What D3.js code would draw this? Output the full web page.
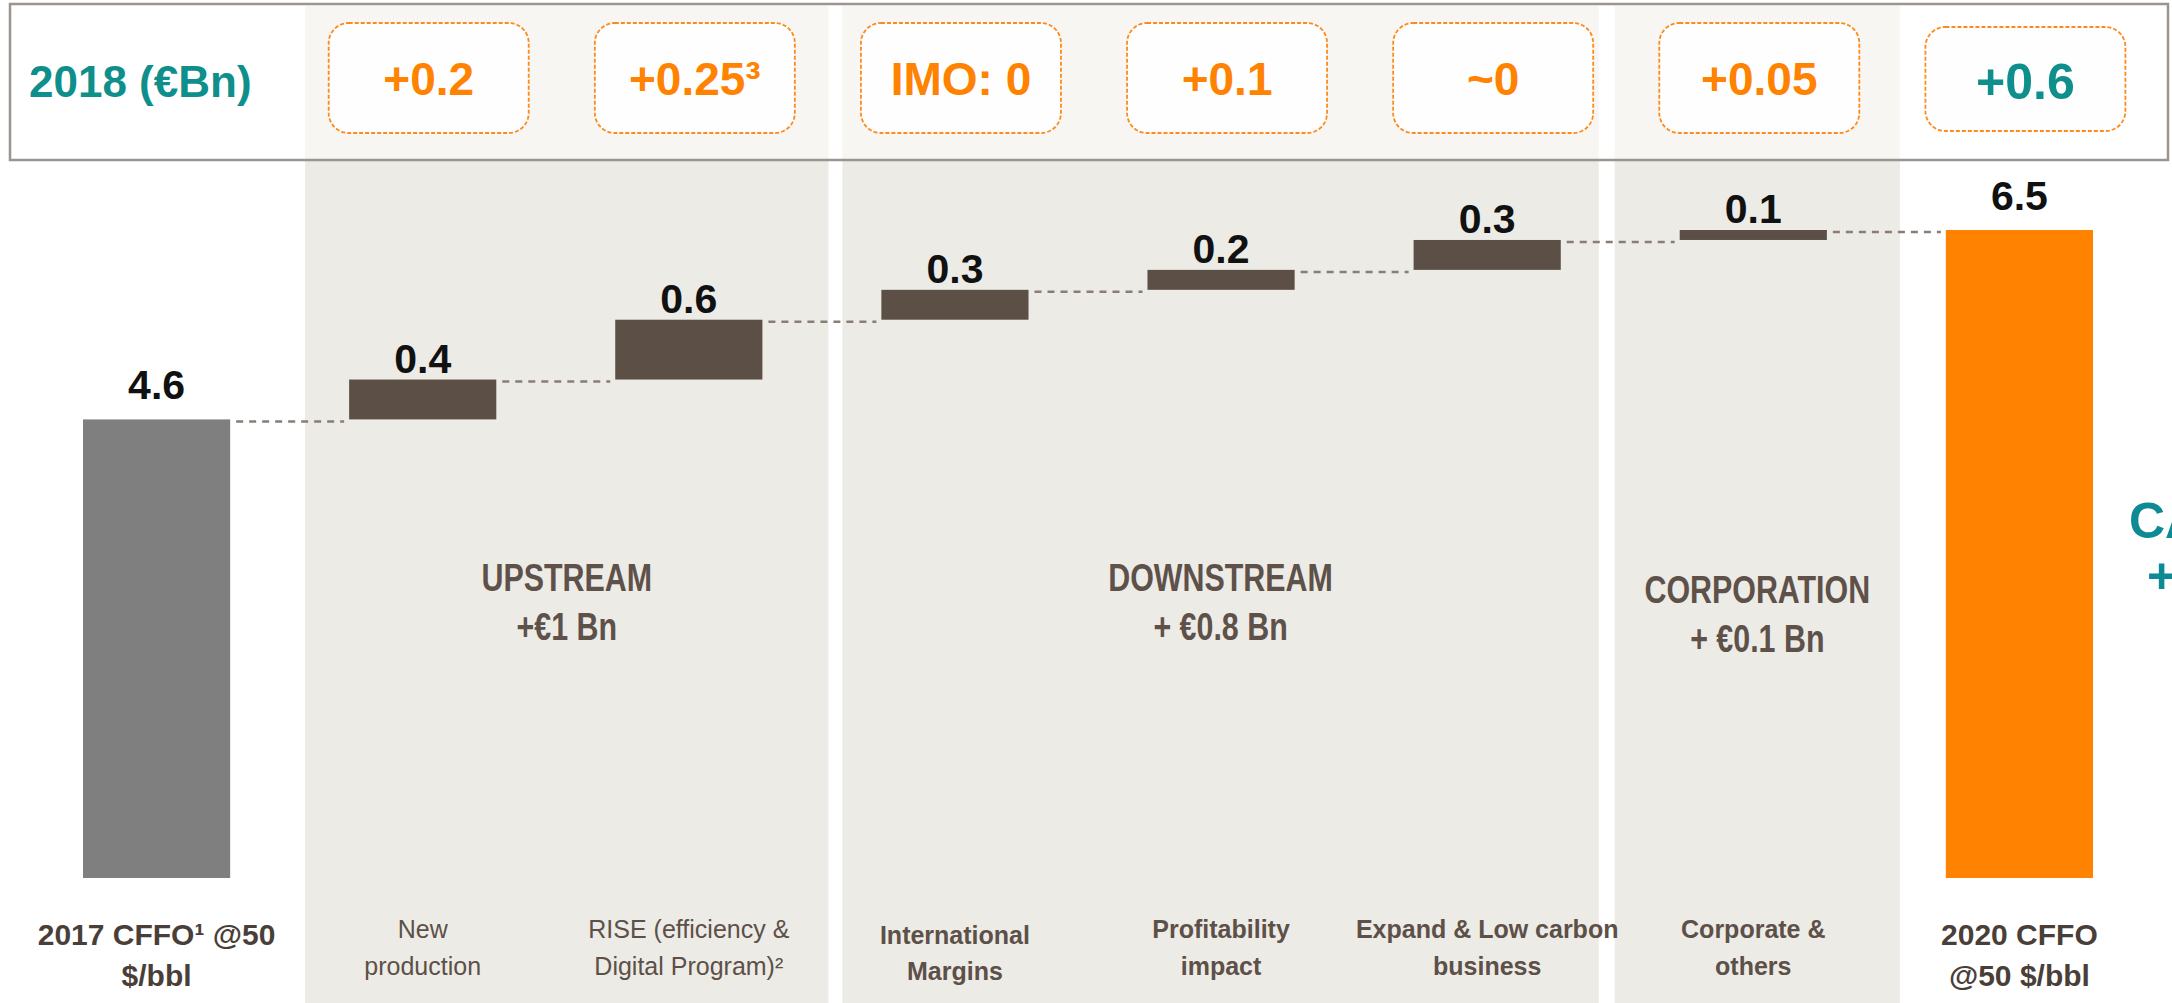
<!DOCTYPE html>
<html>
<head>
<meta charset="utf-8">
<script src="https://cdn.jsdelivr.net/npm/d3@7"></script>
<style>
  body { margin: 0; background: #fff; overflow: hidden; }
  svg { display: block; }
  text { font-family: "Liberation Sans", Arial, sans-serif; }
</style>
</head>
<body>
<div id="chart"></div>
<script>
/*
 * CFFO bridge 2017 -> 2020 (EUR Bn, @50 $/bbl), with the 2018 contribution on top
 */

// bars of the bridge
var categoryLines = [
  ["2017 CFFO¹ @50", "$/bbl"],
  ["New", "production"],
  ["RISE (efficiency &", "Digital Program)²"],
  ["International", "Margins"],
  ["Profitability", "impact"],
  ["Expand & Low carbon", "business"],
  ["Corporate &", "others"],
  ["2020 CFFO", "@50 $/bbl"]
];
var values = [4.6, 0.4, 0.6, 0.3, 0.2, 0.3, 0.1, 6.5];
var isTotal = [true, false, false, false, false, false, false, true];

// 2018 row (one per bar after the first)
var header2018 = ["+0.2", "+0.25³", "IMO: 0", "+0.1", "~0", "+0.05", "+0.6"];

// business segments
var segmentNames = ["UPSTREAM", "DOWNSTREAM", "CORPORATION"];
var segmentTotals = ["+€1 Bn", "+ €0.8 Bn", "+ €0.1 Bn"];
var segmentFirst = [1, 3, 6];
var segmentLast = [2, 5, 6];

var width = 2172, height = 1003;

var svg = d3.select("#chart").append("svg")
    .attr("width", width)
    .attr("height", height);

var x = d3.scaleBand()
    .domain(d3.range(values.length))
    .range([83, 2093])
    .paddingInner(0.447)
    .paddingOuter(0);
var bw = x.bandwidth();

var y = d3.scaleLinear()
    .domain([0, 6.5])
    .range([878, 230]);

// waterfall start / end
var run = 0;
var bars = values.map(function(v, i) {
  var b;
  if (isTotal[i]) { b = {i: i, y0: 0, y1: v}; run = v; }
  else { b = {i: i, y0: run, y1: run + v}; run += v; }
  return b;
});

// header box background
var headTop = 4, headBottom = 160;
svg.append("rect")
    .attr("x", 10).attr("y", headTop)
    .attr("width", 2158).attr("height", headBottom - headTop)
    .attr("fill", "#fff");

// segment bands (space left / right of the outer bars of each segment)
var padL = [44, 39, 65], padR = [66, 38, 73];
function bandLeft(k) { return x(segmentFirst[k]) - padL[k]; }
function bandRight(k) { return x(segmentLast[k]) + bw + padR[k]; }

var bands = svg.append("g").selectAll("g")
    .data(segmentNames)
    .enter().append("g");
bands.append("rect")
    .attr("x", function(d, k) { return bandLeft(k); })
    .attr("y", headTop + 2)
    .attr("width", function(d, k) { return bandRight(k) - bandLeft(k); })
    .attr("height", headBottom - headTop - 2)
    .attr("fill", "#f7f6f3");
bands.append("rect")
    .attr("x", function(d, k) { return bandLeft(k); })
    .attr("y", headBottom)
    .attr("width", function(d, k) { return bandRight(k) - bandLeft(k); })
    .attr("height", height - headBottom)
    .attr("fill", "#ecebe6");

// header frame
svg.append("rect")
    .attr("x", 10).attr("y", headTop)
    .attr("width", 2158).attr("height", headBottom - headTop)
    .attr("fill", "none")
    .attr("stroke", "#9d948e")
    .attr("stroke-width", 2.5);

svg.append("text")
    .text("2018 (€Bn)")
    .attr("x", 29)
    .attr("y", 97)
    .attr("font-size", 44)
    .attr("font-weight", "bold")
    .attr("fill", "#0e8f8b");

// 2018 boxes
var last = header2018.length - 1;
var boxes = svg.append("g").selectAll("g")
    .data(header2018)
    .enter().append("g")
    .attr("transform", function(d, k) { return "translate(" + (x(k + 1) + bw / 2 + 6) + ",0)"; });
boxes.append("rect")
    .attr("x", -100)
    .attr("y", function(d, k) { return k == last ? 27 : 23; })
    .attr("width", 200)
    .attr("height", function(d, k) { return k == last ? 104 : 110; })
    .attr("rx", 20)
    .attr("fill", "#fefefe")
    .attr("stroke", "#ff8a1c")
    .attr("stroke-width", 1.8)
    .attr("stroke-dasharray", "4,2");
boxes.append("text")
    .text(function(d) { return d; })
    .attr("text-anchor", "middle")
    .attr("y", function(d, k) { return k == last ? 99 : 95; })
    .attr("font-size", function(d, k) { return k == last ? 50 : 46; })
    .attr("font-weight", "bold")
    .attr("fill", function(d, k) { return k == last ? "#0e8f8b" : "#ff8200"; });

// dashed connectors
svg.append("g").selectAll("line")
    .data(bars.slice(0, bars.length - 1))
    .enter().append("line")
    .attr("x1", function(d) { return x(d.i) + bw + 6; })
    .attr("x2", function(d) { return x(d.i + 1) - 5; })
    .attr("y1", function(d) { return y(d.y1) + 2; })
    .attr("y2", function(d) { return y(d.y1) + 2; })
    .attr("stroke", "#8a7d75")
    .attr("stroke-width", 2.5)
    .attr("stroke-dasharray", "7,6");

// bars
svg.append("g").selectAll("rect")
    .data(bars)
    .enter().append("rect")
    .attr("x", function(d) { return x(d.i); })
    .attr("y", function(d) { return y(d.y1); })
    .attr("width", bw)
    .attr("height", function(d) { return y(d.y0) - y(d.y1); })
    .attr("fill", function(d) {
      if (d.i == 0) return "#7f7f7f";
      if (d.i == bars.length - 1) return "#ff8200";
      return "#5c4f46";
    });

// value labels
svg.append("g").selectAll("text")
    .data(bars)
    .enter().append("text")
    .text(function(d) { return values[d.i]; })
    .attr("x", function(d) { return x(d.i) + bw / 2; })
    .attr("y", function(d) { return y(d.y1) - (isTotal[d.i] ? 20 : 7); })
    .attr("text-anchor", "middle")
    .attr("font-size", 41)
    .attr("font-weight", "bold")
    .attr("fill", "#111");

// segment titles (condensed look: squeeze horizontally)
var segs = svg.append("g").selectAll("g")
    .data(segmentNames)
    .enter().append("g")
    .attr("transform", function(d, k) {
      var cx = (bandLeft(k) + bandRight(k)) / 2;
      return "translate(" + cx + "," + (k == 2 ? 603 : 591) + ") scale(0.8,1)";
    });
segs.append("text")
    .text(function(d) { return d; })
    .attr("text-anchor", "middle")
    .attr("font-size", 38)
    .attr("font-weight", "bold")
    .attr("fill", "#5e5149");
segs.append("text")
    .text(function(d, k) { return segmentTotals[k]; })
    .attr("y", 49)
    .attr("text-anchor", "middle")
    .attr("font-size", 38)
    .attr("font-weight", "bold")
    .attr("fill", "#5e5149");

// category labels
var cats = svg.append("g").selectAll("text")
    .data(categoryLines)
    .enter().append("text")
    .attr("text-anchor", "middle")
    .attr("font-size", function(d, i) { return isTotal[i] ? 30 : 25; })
    .attr("font-weight", function(d, i) { return (i == 1 || i == 2) ? "normal" : "bold"; })
    .attr("fill", function(d, i) { return isTotal[i] ? "#4a3f38" : "#5c5048"; });
cats.selectAll("tspan")
    .data(function(d, i) { return d.map(function(s, j) { return {s: s, j: j, i: i}; }); })
    .enter().append("tspan")
    .text(function(d) { return d.s; })
    .attr("x", function(d) { return x(d.i) + bw / 2; })
    .attr("y", function(d) {
      if (isTotal[d.i]) return d.j == 0 ? 945 : 986;
      if (d.i == 3) return d.j == 0 ? 944 : 980;
      return d.j == 0 ? 938 : 975;
    });

// cut-off note at the right edge (cropped in the original too)
svg.append("text")
    .text("CAGR")
    .attr("x", 2129)
    .attr("y", 538)
    .attr("font-size", 50)
    .attr("font-weight", "bold")
    .attr("fill", "#0d8a94");
svg.append("text")
    .text("+12%")
    .attr("x", 2147)
    .attr("y", 593)
    .attr("font-size", 50)
    .attr("font-weight", "bold")
    .attr("fill", "#0d8a94");
</script>
</body>
</html>
